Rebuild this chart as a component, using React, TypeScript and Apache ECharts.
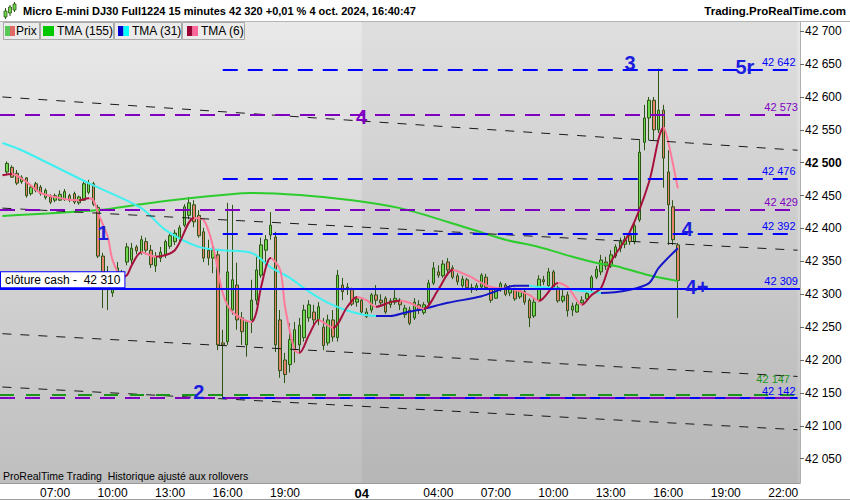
import React, { useEffect, useRef } from 'react';
import * as echarts from 'echarts';

// 15 minute bars, 3 Oct 04:15 -> 4 Oct 22:45 (the 23:00 hour is the CME break)
const categories: string[] = [];
for (let m = 4 * 60 + 15; m < 23 * 60; m += 15) {
  categories.push(`03 ${String(Math.floor(m / 60)).padStart(2, '0')}:${String(m % 60).padStart(2, '0')}`);
}
for (let m = 0; m < 23 * 60; m += 15) {
  categories.push(`04 ${String(Math.floor(m / 60)).padStart(2, '0')}:${String(m % 60).padStart(2, '0')}`);
}

// [open, close, low, high]
const candles: number[][] = [
  [42486, 42499, 42483, 42502], [42493, 42478, 42477, 42496], [42484, 42469, 42466, 42489],
  [42471, 42478, 42468, 42481], [42477, 42450, 42447, 42478], [42453, 42463, 42450, 42466],
  [42468, 42458, 42455, 42471], [42463, 42453, 42450, 42466], [42447, 42458, 42444, 42461],
  [42449, 42440, 42437, 42452], [42443, 42450, 42440, 42453], [42443, 42452, 42442, 42458],
  [42444, 42456, 42442, 42460], [42450, 42443, 42440, 42453], [42453, 42440, 42437, 42456],
  [42439, 42448, 42436, 42450], [42443, 42468, 42442, 42471], [42455, 42469, 42452, 42474],
  [42468, 42437, 42434, 42471], [42432, 42358, 42355, 42436], [42358, 42317, 42279, 42363],
  [42307, 42325, 42276, 42343], [42302, 42319, 42296, 42329], [42322, 42340, 42314, 42349],
  [42311, 42328, 42307, 42337], [42349, 42372, 42344, 42378], [42352, 42370, 42346, 42378],
  [42372, 42366, 42361, 42375], [42364, 42383, 42360, 42389], [42380, 42367, 42361, 42386],
  [42367, 42345, 42340, 42375], [42343, 42358, 42334, 42364], [42355, 42364, 42349, 42372],
  [42360, 42380, 42355, 42383], [42373, 42389, 42369, 42393], [42380, 42393, 42375, 42398],
  [42386, 42401, 42381, 42405], [42405, 42433, 42402, 42437], [42420, 42439, 42414, 42448],
  [42436, 42410, 42402, 42443], [42420, 42389, 42386, 42428], [42395, 42355, 42349, 42401],
  [42367, 42355, 42344, 42383], [42355, 42367, 42332, 42378], [42360, 42223, 42215, 42367],
  [42226, 42223, 42142, 42246], [42228, 42334, 42223, 42439], [42276, 42322, 42269, 42436],
  [42314, 42261, 42246, 42348], [42264, 42243, 42223, 42273], [42223, 42258, 42205, 42261],
  [42261, 42291, 42241, 42322], [42291, 42337, 42284, 42357], [42329, 42375, 42325, 42386],
  [42367, 42383, 42344, 42390], [42390, 42405, 42383, 42425], [42387, 42223, 42212, 42395],
  [42261, 42184, 42173, 42276], [42200, 42178, 42165, 42211], [42193, 42231, 42181, 42256],
  [42215, 42246, 42196, 42258], [42223, 42253, 42212, 42264], [42234, 42276, 42228, 42284],
  [42264, 42284, 42258, 42291], [42273, 42261, 42253, 42284], [42261, 42281, 42253, 42288],
  [42250, 42222, 42215, 42264], [42226, 42261, 42222, 42269], [42261, 42235, 42228, 42276],
  [42234, 42329, 42228, 42337], [42314, 42304, 42291, 42325], [42307, 42311, 42299, 42317],
  [42307, 42285, 42282, 42310], [42288, 42293, 42281, 42297], [42291, 42273, 42270, 42294],
  [42266, 42273, 42264, 42279], [42276, 42299, 42272, 42302], [42299, 42291, 42284, 42314],
  [42291, 42287, 42281, 42300], [42294, 42273, 42270, 42297], [42284, 42290, 42279, 42294],
  [42288, 42294, 42284, 42307], [42291, 42284, 42276, 42294], [42269, 42279, 42264, 42284],
  [42276, 42256, 42253, 42281], [42264, 42288, 42261, 42294], [42284, 42276, 42270, 42291],
  [42272, 42284, 42269, 42288], [42288, 42317, 42284, 42322], [42317, 42340, 42314, 42349],
  [42334, 42329, 42325, 42344], [42328, 42346, 42325, 42352], [42349, 42337, 42332, 42355],
  [42340, 42326, 42323, 42344], [42328, 42319, 42314, 42332], [42313, 42323, 42310, 42328],
  [42322, 42310, 42307, 42325], [42310, 42307, 42302, 42316], [42307, 42313, 42305, 42317],
  [42311, 42329, 42308, 42332], [42326, 42310, 42307, 42331], [42307, 42291, 42287, 42310],
  [42294, 42307, 42293, 42311], [42307, 42316, 42304, 42319], [42314, 42300, 42297, 42317],
  [42302, 42308, 42297, 42314], [42307, 42293, 42290, 42310], [42296, 42305, 42293, 42308],
  [42304, 42288, 42284, 42307], [42291, 42264, 42250, 42294], [42267, 42288, 42264, 42293],
  [42291, 42323, 42288, 42329], [42322, 42319, 42314, 42328], [42313, 42334, 42310, 42340],
  [42334, 42310, 42307, 42337], [42310, 42290, 42287, 42313], [42290, 42297, 42287, 42307],
  [42299, 42275, 42266, 42304], [42276, 42282, 42267, 42287], [42273, 42284, 42272, 42288],
  [42287, 42291, 42284, 42297], [42293, 42301, 42291, 42304], [42307, 42326, 42304, 42329],
  [42326, 42338, 42323, 42343], [42334, 42352, 42329, 42360], [42349, 42343, 42337, 42357],
  [42343, 42360, 42340, 42367], [42358, 42372, 42355, 42376], [42370, 42380, 42364, 42386],
  [42376, 42383, 42370, 42389], [42389, 42380, 42375, 42395], [42380, 42404, 42376, 42408],
  [42413, 42516, 42410, 42534], [42531, 42568, 42519, 42588], [42568, 42595, 42534, 42600],
  [42595, 42550, 42534, 42600], [42550, 42580, 42545, 42643], [42580, 42507, 42462, 42588],
  [42486, 42436, 42375, 42519], [42433, 42383, 42375, 42443], [42375, 42321, 42264, 42378],
];
const lastCandleCat = 141; // 4 Oct 16:30

// moving averages as [category index, price]
const tma155: number[][] = [
  [0, 42419], [20, 42428], [29, 42437], [39, 42446], [46, 42451], [52, 42454], [62, 42451],
  [73, 42443], [83, 42431], [93, 42410], [105, 42383], [112, 42372], [119, 42357], [125, 42346],
  [127, 42345], [135, 42329], [141, 42320],
];
const tma31: number[][] = [
  [0, 42530], [4, 42519], [18, 42469], [29, 42431], [34, 42398], [41, 42372], [46, 42367],
  [52, 42363], [56, 42341], [60, 42325], [64, 42304], [68, 42287], [73, 42273], [78, 42267],
  [81, 42267], [84, 42272], [88, 42278], [93, 42287], [100, 42297], [104, 42307], [107, 42313],
  [110, 42313], [112, 42311], [119, 42307], [125, 42302], [131, 42307], [135, 42317],
  [137, 42340], [141, 42370],
];
const tma6: number[][] = [
  [0, 42481], [2, 42483], [5, 42471], [8, 42454], [13, 42445], [16, 42443], [18, 42446],
  [19, 42443], [20, 42423], [22, 42387], [23, 42352], [25, 42326], [26, 42329], [27, 42344],
  [29, 42364], [32, 42357], [36, 42367], [40, 42416], [42, 42413], [44, 42372], [46, 42302],
  [48, 42273], [52, 42258], [53, 42272], [54, 42311], [56, 42355], [58, 42337], [59, 42281],
  [61, 42215], [62, 42211], [64, 42238], [66, 42261], [69, 42249], [72, 42281], [74, 42296],
  [76, 42291], [78, 42281], [81, 42288], [83, 42290], [85, 42287], [88, 42278], [91, 42307],
  [94, 42337], [97, 42329], [102, 42311], [107, 42307], [110, 42299], [112, 42290],
  [116, 42317], [118, 42311], [121, 42284], [123, 42299], [125, 42310], [127, 42349],
  [131, 42395], [135, 42471], [137, 42537], [138, 42554], [139, 42531], [141, 42461],
];

// horizontal levels
const blueLevels = [42642, 42476, 42392, 42142];
const purpleLevels = [42573, 42429];
const purpleBottom = 42142;
const greenLevel = 42147;
const cashClose = 42309;
const cashLabel = 'clôture cash -  42 310';
const lastPrice = 42321;
const levelStartCat = 46;
const endCat = 166;
// channel lines [cat1, price1, cat2, price2]
const channels: number[][] = [
  [0, 42600, 166, 42519],
  [0, 42431, 166, 42367],
  [0, 42240, 166, 42175],
  [0, 42159, 166, 42094],
];
// wave annotations [text, cat, price, purple?]
const notes: [string, number, number, boolean][] = [
  ['1', 21, 42393, false],
  ['2', 41, 42152, false],
  ['3', 131, 42651, false],
  ['4', 75, 42569, true],
  ['4', 143, 42399, false],
  ['4+', 145, 42311, false],
  ['5r', 155, 42645, false],
];

const BLUE = '#0000ff';
const BLUE_TXT = '#1c1ce0';
const PURPLE = '#8000c0';
const GREEN = '#1a951a';
const FONT = '"Liberation Sans", Arial, sans-serif';

const fmt = (v: number) => String(v).replace(/\B(?=(\d{3})+(?!\d))/g, ' ');

const directionPieces = (pts: number[][], up: string, down: string) => {
  const pieces: any[] = [];
  for (let i = 1; i < pts.length; i++) {
    const piece: any = { color: pts[i][1] >= pts[i - 1][1] ? up : down };
    if (i > 1) piece.gte = pts[i - 1][0];
    if (i < pts.length - 1) piece.lt = pts[i][0];
    pieces.push(piece);
  }
  return pieces;
};

const dash = [15, 10];

const levelLabel = (v: number, color: string, distance = 2) => ({
  show: true,
  position: 'insideEndTop',
  formatter: fmt(v),
  color,
  fontSize: 11,
  fontFamily: FONT,
  distance,
});

export default function App() {
  const chartRef = useRef<HTMLDivElement>(null);

  useEffect(() => {
    document.body.style.margin = '0';
    if (!chartRef.current) return;
    const chart = echarts.init(chartRef.current, undefined, { renderer: 'svg' });

    const offset = lastCandleCat - (candles.length - 1);
    const candleData: any[] = categories.map(() => ['-', '-', '-', '-']);
    candles.forEach((c, i) => {
      candleData[i + offset] = c;
    });

    const markLines: any[] = [];
    channels.forEach(([c1, p1, c2, p2]) => {
      markLines.push([
        { coord: [c1, p1], lineStyle: { color: '#1a1a1a', type: [9, 9], width: 1 }, label: { show: false } },
        { coord: [c2, p2] },
      ]);
    });
    purpleLevels.forEach((v) => {
      markLines.push({ yAxis: v, lineStyle: { color: PURPLE, type: dash, width: 2 }, label: levelLabel(v, PURPLE) });
    });
    markLines.push({
      yAxis: greenLevel,
      lineStyle: { color: GREEN, type: [14, 12], width: 2 },
      label: levelLabel(greenLevel, GREEN, 10),
    });
    blueLevels.forEach((v) => {
      markLines.push([
        {
          coord: [levelStartCat, v],
          lineStyle: { color: BLUE, type: v === purpleBottom ? 'solid' : dash, width: 2 },
          label: levelLabel(v, BLUE),
        },
        { coord: [endCat, v] },
      ]);
    });
    markLines.push({ yAxis: purpleBottom, lineStyle: { color: PURPLE, type: dash, width: 2 }, label: { show: false } });
    markLines.push({ yAxis: cashClose, lineStyle: { color: BLUE, type: 'solid', width: 2 }, label: levelLabel(cashClose, BLUE) });
    markLines.push({
      yAxis: cashClose,
      lineStyle: { color: BLUE, type: 'solid', width: 2 },
      label: {
        show: true,
        position: 'insideStartTop',
        formatter: cashLabel,
        color: '#000',
        fontSize: 12,
        fontFamily: FONT,
        backgroundColor: '#fff',
        borderColor: BLUE,
        borderWidth: 1,
        padding: [2, 4, 1, 4],
        distance: 1,
      },
    });
    markLines.push({
      yAxis: lastPrice,
      lineStyle: { opacity: 0 },
      label: {
        show: true,
        position: 'end',
        formatter: fmt(lastPrice),
        color: '#000',
        fontSize: 12,
        fontFamily: FONT,
        backgroundColor: '#ffcc00',
        borderColor: '#8c8c8c',
        borderWidth: 1,
        padding: [1, 2, 0, 2],
        distance: 4,
      },
    });

    // ticks every 3 hours (01, 04, 07 ...) plus midnight
    const isTickCat = (value: string) => {
      const t = value.split(' ')[1];
      const [h, mi] = t.split(':').map(Number);
      return mi === 0 && (h % 3 === 1 || h === 0);
    };

    const option: any = {
      animation: false,
      backgroundColor: '#fff',
      textStyle: { fontFamily: FONT },
      grid: {
        left: 0,
        right: 50,
        top: 22,
        bottom: 16,
        show: true,
        borderWidth: 0,
        backgroundColor: new echarts.graphic.LinearGradient(0, 0, 0, 1, [
          { offset: 0, color: '#e9e9e9' },
          { offset: 1, color: '#bfbfbf' },
        ]),
      },
      xAxis: {
        type: 'category',
        data: categories,
        boundaryGap: true,
        axisLine: { lineStyle: { color: '#9a9a9a' } },
        axisTick: {
          alignWithLabel: true,
          length: 3,
          interval: (_i: number, v: string) => isTickCat(v),
          lineStyle: { color: '#777' },
        },
        axisLabel: {
          interval: (_i: number, v: string) => {
            if (!isTickCat(v)) return false;
            const [d, t] = v.split(' ');
            if (d === '03' && t === '22:00') return false;
            if (d === '04' && t === '01:00') return false;
            return true;
          },
          formatter: (v: string) => {
            const t = v.split(' ')[1];
            return t === '00:00' ? '{b|04}' : t;
          },
          color: '#000',
          fontSize: 12,
          margin: 4,
          rich: { b: { fontWeight: 'bold', fontSize: 13, color: '#000' } },
        },
        splitLine: { show: false },
      },
      yAxis: {
        type: 'value',
        position: 'right',
        scale: true,
        min: 42013,
        max: 42714,
        splitNumber: 14,
        minInterval: 50,
        maxInterval: 50,
        axisLine: { show: true, lineStyle: { color: '#b0b0b0' } },
        axisTick: { show: true, length: 4, lineStyle: { color: '#666' } },
        splitLine: { show: false },
        axisLabel: {
          showMinLabel: false,
          showMaxLabel: false,
          color: '#000',
          fontSize: 12,
          margin: 5,
          formatter: (v: number) => (v % 50 !== 0 ? '' : v === 42500 ? `{b|${fmt(v)}}` : fmt(v)),
          rich: { b: { fontWeight: 'bold', fontSize: 12, color: '#000' } },
        },
      },
      visualMap: [
        { type: 'piecewise', show: false, seriesIndex: 2, dimension: 0, pieces: directionPieces(tma31, '#1414c8', '#3ef0f0') },
        { type: 'piecewise', show: false, seriesIndex: 3, dimension: 0, pieces: directionPieces(tma6, '#a8103c', '#ff7a9a') },
      ],
      series: [
        {
          name: 'Prix',
          type: 'candlestick',
          data: candleData,
          barWidth: 3,
          clip: false,
          itemStyle: {
            color: '#6fd64f',
            color0: '#e8826f',
            borderColor: '#2b5512',
            borderColor0: '#2b5512',
            borderWidth: 1,
          },
          markArea: {
            silent: true,
            itemStyle: { color: 'rgba(0,0,0,0.045)' },
            data: [[{ xAxis: 75 }, { xAxis: endCat }]],
          },
          markLine: {
            silent: true,
            symbol: ['none', 'none'],
            data: markLines,
          },
          markPoint: {
            silent: true,
            data: notes.map(([t, cat, p, purple]) => ({
              coord: [cat, p],
              symbol: 'circle',
              symbolSize: 0,
              itemStyle: { color: 'transparent' },
              label: {
                show: true,
                position: 'inside',
                formatter: t,
                fontSize: 20,
                fontWeight: 'bold',
                fontFamily: FONT,
                color: purple ? PURPLE : BLUE_TXT,
              },
            })),
          },
        },
        {
          name: 'TMA (155)',
          type: 'line',
          data: tma155,
          smooth: 0.3,
          showSymbol: false,
          lineStyle: { color: '#2ccc2c', width: 2 },
        },
        {
          name: 'TMA (31)',
          type: 'line',
          data: tma31,
          smooth: 0.3,
          showSymbol: false,
          lineStyle: { width: 2 },
        },
        {
          name: 'TMA (6)',
          type: 'line',
          data: tma6,
          smooth: 0.3,
          showSymbol: false,
          lineStyle: { width: 2 },
        },
      ],
      graphic: [
        { type: 'rect', z: 100, shape: { x: 0, y: 0, width: 850, height: 21 }, style: { fill: '#fff' } },
        { type: 'line', z: 101, shape: { x1: 0, y1: 21.5, x2: 850, y2: 21.5 }, style: { stroke: '#b4b4b4', lineWidth: 1 } },
        // little candle icon
        { type: 'line', z: 101, shape: { x1: 5.5, y1: 8, x2: 5.5, y2: 19 }, style: { stroke: '#2b5512', lineWidth: 1 } },
        { type: 'rect', z: 102, shape: { x: 4, y: 11, width: 3, height: 6 }, style: { fill: '#6fd64f', stroke: '#2b5512', lineWidth: 0.8 } },
        { type: 'line', z: 101, shape: { x1: 10, y1: 5, x2: 10, y2: 16 }, style: { stroke: '#2b5512', lineWidth: 1 } },
        { type: 'rect', z: 102, shape: { x: 8.5, y: 7, width: 3, height: 6 }, style: { fill: '#6fd64f', stroke: '#2b5512', lineWidth: 0.8 } },
        { type: 'line', z: 101, shape: { x1: 14.5, y1: 2, x2: 14.5, y2: 12 }, style: { stroke: '#2b5512', lineWidth: 1 } },
        { type: 'rect', z: 102, shape: { x: 13, y: 4, width: 3, height: 6 }, style: { fill: '#6fd64f', stroke: '#2b5512', lineWidth: 0.8 } },
        {
          type: 'text', z: 102, x: 23, y: 11,
          style: {
            text: 'Micro E-mini DJ30 Full1224 15 minutes 42 320 +0,01 % 4 oct. 2024, 16:40:47',
            fontSize: 11, fontWeight: 'bold', fontFamily: FONT, fill: '#000', verticalAlign: 'middle',
          },
        },
        {
          type: 'text', z: 102, x: 846, y: 11,
          style: {
            text: 'Trading.ProRealTime.com', fontSize: 11.5, fontWeight: 'bold', fontFamily: FONT,
            fill: '#000', align: 'right', verticalAlign: 'middle',
          },
        },
        // legend tabs
        { type: 'rect', z: 100, shape: { x: 3.5, y: 22.5, width: 36, height: 17 }, style: { fill: '#ebebeb', stroke: '#a9a9a9', lineWidth: 1 } },
        { type: 'text', z: 101, x: 16, y: 31, style: { text: 'Prix', fontSize: 12, fontFamily: FONT, fill: '#000', verticalAlign: 'middle' } },
        { type: 'rect', z: 102, shape: { x: 5, y: 26, width: 5, height: 10 }, style: { fill: '#55c855' } },
        { type: 'rect', z: 102, shape: { x: 10, y: 26, width: 5, height: 10 }, style: { fill: '#e06868' } },
        { type: 'rect', z: 100, shape: { x: 40.5, y: 22.5, width: 73, height: 17 }, style: { fill: '#ebebeb', stroke: '#a9a9a9', lineWidth: 1 } },
        { type: 'rect', z: 102, shape: { x: 43, y: 26, width: 11, height: 10 }, style: { fill: '#00c800' } },
        { type: 'text', z: 101, x: 57, y: 31, style: { text: 'TMA (155)', fontSize: 12, fontFamily: FONT, fill: '#000', verticalAlign: 'middle' } },
        { type: 'rect', z: 100, shape: { x: 114.5, y: 22.5, width: 67, height: 17 }, style: { fill: '#ebebeb', stroke: '#a9a9a9', lineWidth: 1 } },
        { type: 'rect', z: 102, shape: { x: 118, y: 26, width: 5.5, height: 10 }, style: { fill: '#0000cc' } },
        { type: 'rect', z: 102, shape: { x: 123.5, y: 26, width: 5.5, height: 10 }, style: { fill: '#00ffff' } },
        { type: 'text', z: 101, x: 132, y: 31, style: { text: 'TMA (31)', fontSize: 12, fontFamily: FONT, fill: '#000', verticalAlign: 'middle' } },
        { type: 'rect', z: 100, shape: { x: 182.5, y: 22.5, width: 62, height: 17 }, style: { fill: '#ebebeb', stroke: '#a9a9a9', lineWidth: 1 } },
        { type: 'rect', z: 102, shape: { x: 187, y: 26, width: 5.5, height: 10 }, style: { fill: '#990033' } },
        { type: 'rect', z: 102, shape: { x: 192.5, y: 26, width: 5.5, height: 10 }, style: { fill: '#ff6699' } },
        { type: 'text', z: 101, x: 201, y: 31, style: { text: 'TMA (6)', fontSize: 12, fontFamily: FONT, fill: '#000', verticalAlign: 'middle' } },
        {
          type: 'text', z: 101, x: 3, y: 476,
          style: { text: 'ProRealTime Trading  Historique ajusté aux rollovers', fontSize: 10.5, fontFamily: FONT, fill: '#000', verticalAlign: 'middle' },
        },
        { type: 'line', z: 101, shape: { x1: 0, y1: 499.5, x2: 850, y2: 499.5 }, style: { stroke: '#a0a0a0', lineWidth: 1 } },
      ],
    };

    chart.setOption(option);
    return () => {
      chart.dispose();
    };
  }, []);

  return <div ref={chartRef} style={{ width: 850, height: 500 }} />;
}
